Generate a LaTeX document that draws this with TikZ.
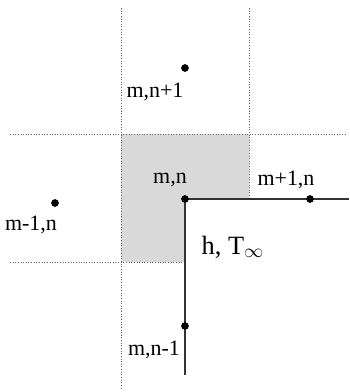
\documentclass[tikz,border=0pt]{standalone}
\usepackage{fontspec}
\setmainfont{Liberation Serif}
\usepackage{tikz}
\usetikzlibrary{positioning}
\tikzset{
  grid/.style={densely dotted,gray!80!black,line width=0.5pt},
  wall/.style={line width=0.7pt,black!80},
  lbl/.style={inner sep=0pt,font=\fontsize{12.5}{14}\selectfont}
}
\begin{document}
\begin{tikzpicture}[x=0.02cm,y=-0.02cm]
    \useasboundingbox (0,0) rectangle (349,392);

    \coordinate (mn)  at (185,199);
    \coordinate (mp)  at (310,199);
    \coordinate (mm)  at (55,203);
    \coordinate (np)  at (185,68);
    \coordinate (nm)  at (185,326);

    % shaded control volume
    \fill[gray!30] (121,134) -- (249,134) -- (249,199) -- (mn) -- (185,262) -- (121,262) --cycle;

    % grid lines
    \draw[grid] (121,8) -- (121,388);
    \draw[grid] (249,8) -- (249,199);
    \draw[grid] (10,134) -- (346,134);
    \draw[grid] (10,262) -- (185,262);

    % convective boundary
    \draw[wall] (349,199) -- (mn) -- (185,375);

    \foreach \p in {mn,mp,mm,np,nm} {
        \fill (\p) circle (2.2pt);
    }

    \node[lbl] (Lmn) at (170,180) {m,n};
    \node[lbl] (Lmp) at (286,180) {m+1,n};
    \node[lbl] (Lmm) at (31,225) {m-1,n};
    \node[lbl] (Lnp) at (155,92) {m,n+1};
    \node[lbl] (Lnm) at (154,350) {m,n-1};
    \node[lbl,font=\fontsize{15}{17}\selectfont] (Lh) at (233,247) {h, T$_\infty$};
\end{tikzpicture}
\end{document}
